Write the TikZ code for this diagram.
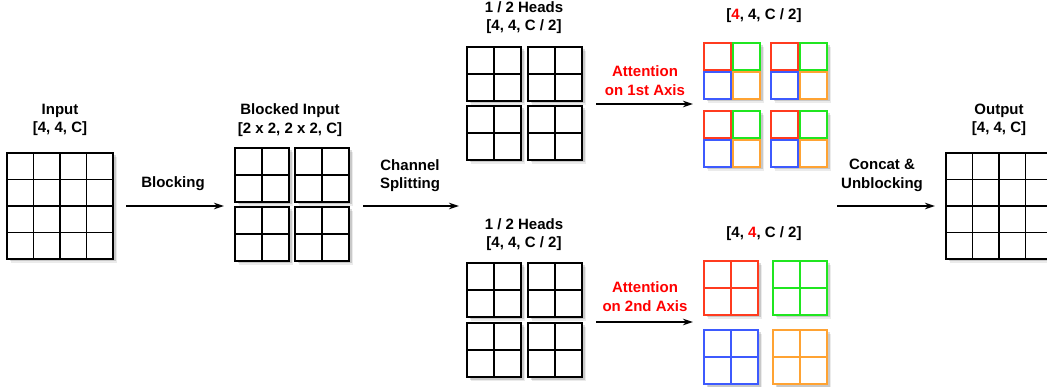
\documentclass[tikz,border=0pt]{standalone}
\usepackage{fontspec}
\setmainfont{Liberation Sans}
\usetikzlibrary{arrows.meta,calc}
\definecolor{cred}{RGB}{255,59,31}
\definecolor{cgreen}{RGB}{32,230,32}
\definecolor{cblue}{RGB}{61,90,254}
\definecolor{corange}{RGB}{255,163,51}
\tikzset{
 lbl/.style={font=\fontsize{15}{18.5}\selectfont\bfseries, align=center, inner sep=0pt},
 redlbl/.style={lbl,text=red},
 arr/.style={line width=1.5pt, -{Stealth[length=10pt,width=6.5pt]}},
 grp/.style={inner sep=0pt, outer sep=0pt, draw=none},
 gl/.style={line width=1.8pt},
}
\newcommand\shadowbox[3]{%
 \fill[black,opacity=0.08] (#1+4,#2+4) rectangle ++(#3,#3);
 \fill[black,opacity=0.14] (#1+2.5,#2+2.5) rectangle ++(#3,#3);
}
\newcommand\gridfour[3]{%
 \shadowbox{#1}{#2}{#3}
 \draw[gl,fill=white] (#1,#2) rectangle ++(#3,#3);
 \foreach \k in {1,2,3}{
   \draw[gl] ({#1+\k*#3/4},#2) -- ++(0,#3);
   \draw[gl] (#1,{#2+\k*#3/4}) -- ++(#3,0);
 }
}
\newcommand\gridtwo[4]{%
 \shadowbox{#1}{#2}{#3}
 \draw[gl,draw=#4,fill=white] (#1,#2) rectangle ++(#3,#3);
 \draw[gl,draw=#4] ({#1+#3/2},#2) -- ++(0,#3);
 \draw[gl,draw=#4] (#1,{#2+#3/2}) -- ++(#3,0);
}
\newcommand\gridsplit[2]{%
 \shadowbox{#1}{#2}{56}
 \draw[gl,draw=cred,fill=white] (#1,#2) rectangle ++(27,27);
 \draw[gl,draw=cgreen,fill=white] (#1+29,#2) rectangle ++(27,27);
 \draw[gl,draw=cblue,fill=white] (#1,#2+29) rectangle ++(27,27);
 \draw[gl,draw=corange,fill=white] (#1+29,#2+29) rectangle ++(27,27);
}
\begin{document}
\begin{tikzpicture}[x=1pt,y=-1pt]
\useasboundingbox (0,0) rectangle (1047,387);
\fill[white] (0,0) rectangle (1047,387);
\clip (0,0) rectangle (1047,387);

% group nodes
\node[grp, minimum width=106pt, minimum height=106pt] (in) at (60,206) {};
\node[grp, minimum width=114pt, minimum height=113pt] (blk) at (292,204.5) {};
\node[grp, minimum width=114pt, minimum height=112pt] (hA) at (524,103) {};
\node[grp, minimum width=114pt, minimum height=114pt] (hB) at (524,320) {};
\node[grp, minimum width=123pt, minimum height=123pt] (cA) at (765.5,104.5) {};
\node[grp, minimum width=123pt, minimum height=123pt] (cB) at (765.5,322.5) {};
\node[grp, minimum width=106pt, minimum height=106pt] (out) at (999,206) {};

% grids
\gridfour{7}{153}{106}
\gridtwo{235}{148}{54}{black}
\gridtwo{295}{148}{54}{black}
\gridtwo{235}{207}{54}{black}
\gridtwo{295}{207}{54}{black}
\gridtwo{467}{47}{54}{black}
\gridtwo{528}{47}{54}{black}
\gridtwo{467}{106}{54}{black}
\gridtwo{528}{106}{54}{black}
\gridtwo{467}{263}{54}{black}
\gridtwo{528}{263}{54}{black}
\gridtwo{467}{323}{54}{black}
\gridtwo{528}{323}{54}{black}
\gridsplit{704}{43}
\gridsplit{771}{43}
\gridsplit{704}{111}
\gridsplit{771}{111}
\gridtwo{704}{261}{54}{cred}
\gridtwo{773}{261}{54}{cgreen}
\gridtwo{704}{330}{54}{cblue}
\gridtwo{773}{330}{54}{corange}
\gridfour{946}{153}{106}

% labels
\node[lbl] (lin) at (60,120) {Input\\{[4, 4, C]}};
\node[lbl] (lblk) at (290,120) {Blocked Input\\{[2 x 2, 2 x 2, C]}};
\node[lbl] (lhA) at (524,17.5) {1 / 2 Heads\\{[4, 4, C / 2]}};
\node[lbl] (lcA) at (764,16) {[{\color{red}4}, 4, C / 2]};
\node[redlbl] (latA) at (645,80.5) {Attention\\on 1st Axis};
\node[lbl] (lhB) at (524,234.5) {1 / 2 Heads\\{[4, 4, C / 2]}};
\node[lbl] (lcB) at (764,234) {[4, {\color{red}4}, C / 2]};
\node[redlbl] (latB) at (645,296.5) {Attention\\on 2nd Axis};
\node[lbl] (lblock) at (173,184) {Blocking};
\node[lbl] (lsplit) at (410,175.5) {Channel\\Splitting};
\node[lbl] (lconcat) at (882,175.5) {Concat \&\\Unblocking};
\node[lbl] (lout) at (999,120) {Output\\{[4, 4, C]}};

% arrows
\coordinate (splitend) at (459,206);
\coordinate (cstart) at (837,206);
\draw[arr] ($(in.east)+(13,0)$) -- ($(blk.west |- in.east)+(-11,0)$);
\draw[arr] ($(blk.east |- in.east)+(14,0)$) -- (splitend);
\draw[arr] ($(hA.east)+(15,1)$) -- ($(cA.west |- hA.east)+(-11,1)$);
\draw[arr] ($(hB.east)+(15,2)$) -- ($(cB.west |- hB.east)+(-11,2)$);
\draw[arr] (cstart) -- ($(out.west)+(-11,0)$);
\end{tikzpicture}
\end{document}
